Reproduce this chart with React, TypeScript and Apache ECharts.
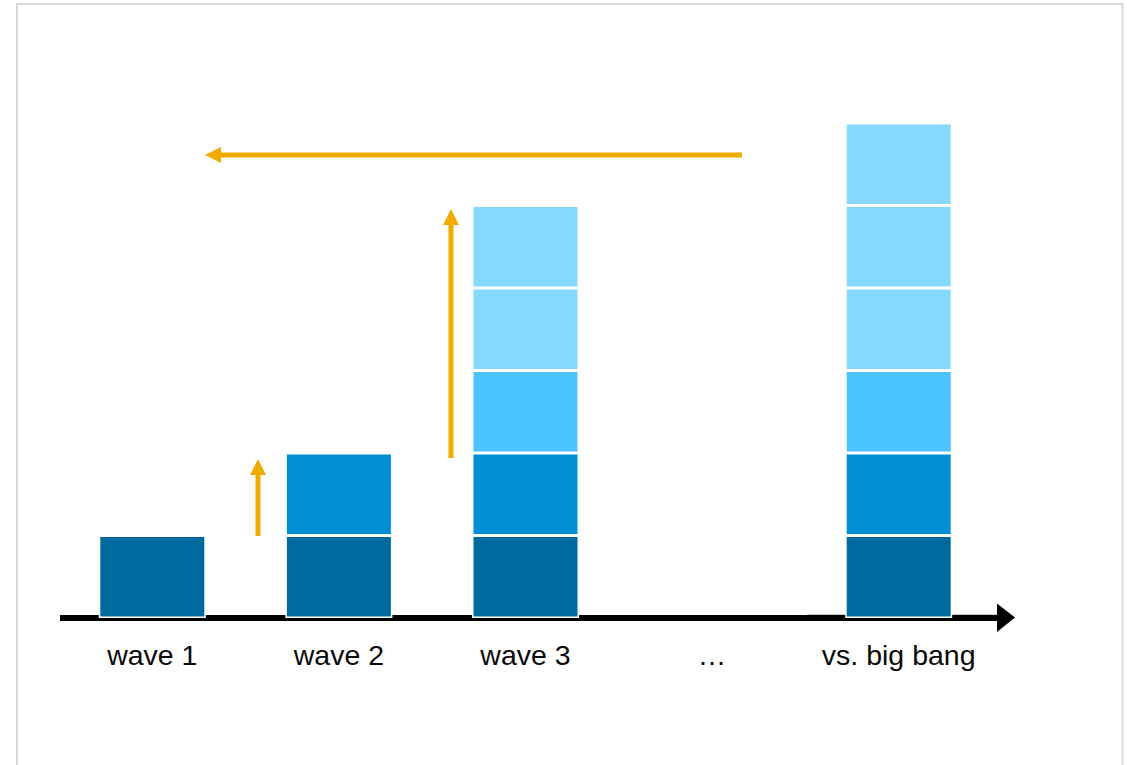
import React, { useEffect, useRef } from "react";
import * as echarts from "echarts";

const categories = ["wave 1", "wave 2", "wave 3", "…", "vs. big bang"];
const level1 = [1, 1, 1, null, 1];
const level2 = [null, 1, 1, null, 1];
const level3 = [null, null, 1, null, 1];
const level4 = [null, null, 1, null, 1];
const level5 = [null, null, 1, null, 1];
const level6 = [null, null, null, null, 1];
const levels = [level1, level2, level3, level4, level5, level6];
const levelColors = ["#006A9E", "#008FD5", "#4BC4FF", "#87D8FF", "#87D8FF", "#87D8FF"];

const ORANGE = "#F0AB00";

export default function App() {
  const ref = useRef<HTMLDivElement>(null);
  useEffect(() => {
    if (!ref.current) return;
    const chart = echarts.init(ref.current, undefined, { renderer: "svg" });
    const vArrow = (x: number, y0: number, tip: number) => [
      { type: "line", shape: { x1: x, y1: y0, x2: x, y2: tip + 14 }, style: { stroke: ORANGE, lineWidth: 5 } },
      { type: "polygon", shape: { points: [[x - 8, tip + 16], [x, tip], [x + 8, tip + 16]] }, style: { fill: ORANGE } },
    ];
    chart.setOption({
      animation: false,
      backgroundColor: "#ffffff",
      grid: { left: 59, right: 135, top: 40.5, bottom: 147, containLabel: false },
      xAxis: {
        type: "category",
        data: categories,
        axisLine: { show: false },
        axisTick: { show: false },
        axisLabel: {
          interval: 0,
          color: "#0a0a0a",
          fontSize: 28.5,
          fontFamily: "Liberation Sans, Arial, sans-serif",
          margin: 22,
        },
      },
      yAxis: {
        type: "value",
        min: 0,
        max: 7,
        show: false,
        splitLine: { show: false },
      },
      series: levels.map((d, i) => ({
        type: "bar",
        stack: "total",
        data: d,
        barWidth: 107,
        itemStyle: { color: levelColors[i], borderColor: "#ffffff", borderWidth: 1.5 },
      })),
      graphic: [
        {
          type: "rect",
          shape: { x: 17, y: 4, width: 1105.5, height: 900 },
          style: { fill: "none", stroke: "#d9d9d9", lineWidth: 2 },
          silent: true,
        },
        { type: "line", shape: { x1: 807, y1: 614.5, x2: 997, y2: 614.5 }, style: { stroke: "#c8c8c8", lineWidth: 1 } },
        { type: "line", shape: { x1: 60, y1: 618, x2: 999, y2: 618 }, style: { stroke: "#000000", lineWidth: 6 } },
        { type: "polygon", shape: { points: [[997, 603.5], [1015, 617.5], [997, 632]] }, style: { fill: "#000000" } },
        ...vArrow(258, 536, 459),
        ...vArrow(451, 458, 209),
        { type: "line", shape: { x1: 742, y1: 155, x2: 219, y2: 155 }, style: { stroke: ORANGE, lineWidth: 5 } },
        { type: "polygon", shape: { points: [[221, 147], [205, 155], [221, 163]] }, style: { fill: ORANGE } },
      ],
    });
    return () => chart.dispose();
  }, []);
  return (
    <div
      ref={ref}
      style={{ position: "absolute", left: 0, top: 0, width: 1127, height: 765 }}
    />
  );
}
